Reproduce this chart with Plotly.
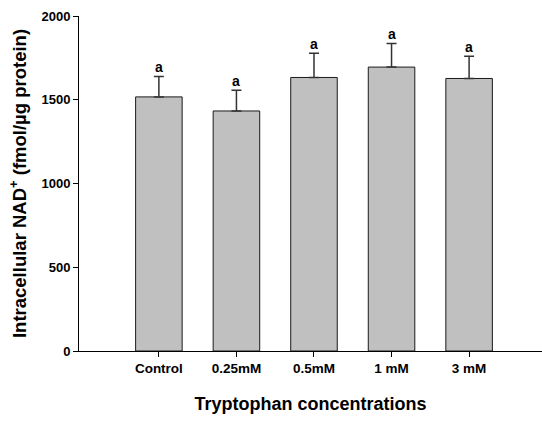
import plotly.graph_objects as go

categories = ["Control", "0.25mM", "0.5mM", "1 mM", "3 mM"]
nad_values = [1517, 1433, 1633, 1695, 1627]
nad_errors = [122, 124, 144, 141, 133]
letters = ["a", "a", "a", "a", "a"]
y_ticks = [0, 500, 1000, 1500, 2000]

FONT = "Liberation Sans, Arial, sans-serif"

fig = go.Figure()
fig.add_trace(go.Bar(
    x=list(range(len(categories))),
    y=nad_values,
    width=0.6,
    marker=dict(color="#c0c0c0", line=dict(color="#1a1a1a", width=1)),
    error_y=dict(type="data", array=nad_errors, arrayminus=[0] * len(nad_errors),
                 symmetric=False, color="#333333", thickness=1.5, width=5),
    showlegend=False,
))

for i, (v, e, t) in enumerate(zip(nad_values, nad_errors, letters)):
    fig.add_annotation(x=i, y=v + e, text="<b>%s</b>" % t, showarrow=False,
                       yanchor="bottom", yshift=-1,
                       font=dict(family=FONT, size=14, color="black"))

fig.update_layout(
    width=542, height=421,
    margin=dict(l=79, r=0, t=16, b=70),
    plot_bgcolor="white", paper_bgcolor="white",
    font=dict(family=FONT, color="black"),
    bargap=0.4,
)
fig.update_xaxes(
    range=[-1.03, 4.94],
    tickvals=list(range(len(categories))),
    ticktext=["<b>%s</b>" % c for c in categories],
    tickfont=dict(family=FONT, size=13.5, color="black"),
    ticks="outside", ticklen=5, tickcolor="black", tickwidth=1,
    showline=True, linecolor="black", linewidth=1,
    showgrid=False, zeroline=False,
    title=dict(text="<b>Tryptophan concentrations</b>",
               font=dict(family=FONT, size=18, color="black"), standoff=22),
)
fig.update_yaxes(
    range=[0, 2000],
    tickvals=y_ticks,
    ticktext=["<b>%d</b>" % t for t in y_ticks],
    tickfont=dict(family=FONT, size=13, color="black"),
    ticks="outside", ticklen=5, tickcolor="black", tickwidth=1,
    showline=True, linecolor="black", linewidth=1,
    showgrid=False, zeroline=False,
    title=dict(text="<b>Intracellular NAD<sup>+</sup> (fmol/µg protein)</b>",
               font=dict(family=FONT, size=18.5, color="black"), standoff=10),
)

fig.write_html("out.html")
